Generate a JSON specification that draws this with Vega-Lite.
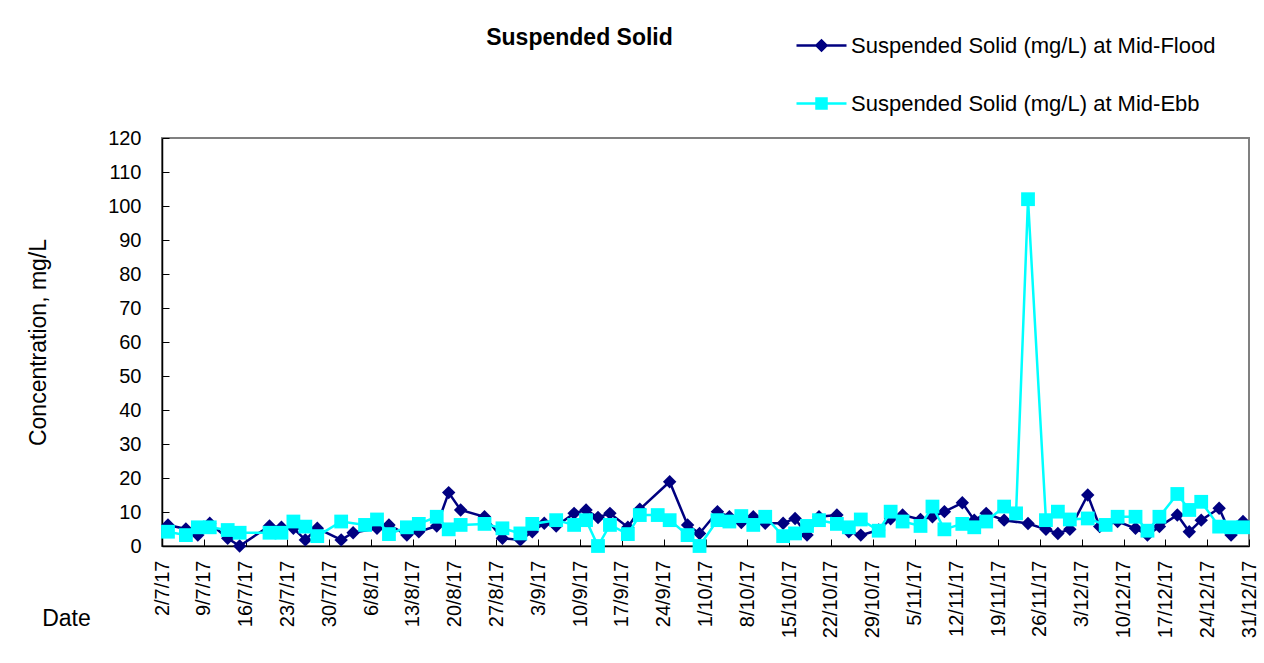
{
  "$schema": "https://vega.github.io/schema/vega-lite/v6.json",
  "width": 1087,
  "height": 408,
  "autosize": {"type": "none"},
  "padding": {"left": 162, "top": 138, "right": 15, "bottom": 117},
  "background": "white",
  "config": {"font": "Liberation Sans", "view": {"stroke": "#808080", "strokeWidth": 2}},
  "title": {"text": "Suspended Solid", "fontSize": 23, "fontWeight": "bold", "font": "Liberation Sans", "color": "black", "anchor": "middle", "frame": "group", "dx": -126, "offset": -31},
  "data": {"values": [
    {"d": "2017-07-03", "s": "Mid-Flood", "v": 6.2},
    {"d": "2017-07-06", "s": "Mid-Flood", "v": 5.0},
    {"d": "2017-07-08", "s": "Mid-Flood", "v": 3.2},
    {"d": "2017-07-10", "s": "Mid-Flood", "v": 6.7},
    {"d": "2017-07-13", "s": "Mid-Flood", "v": 2.3},
    {"d": "2017-07-15", "s": "Mid-Flood", "v": 0},
    {"d": "2017-07-20", "s": "Mid-Flood", "v": 5.9},
    {"d": "2017-07-22", "s": "Mid-Flood", "v": 5.5},
    {"d": "2017-07-24", "s": "Mid-Flood", "v": 5.2},
    {"d": "2017-07-26", "s": "Mid-Flood", "v": 1.8},
    {"d": "2017-07-28", "s": "Mid-Flood", "v": 5.2},
    {"d": "2017-08-01", "s": "Mid-Flood", "v": 1.8},
    {"d": "2017-08-03", "s": "Mid-Flood", "v": 3.9},
    {"d": "2017-08-07", "s": "Mid-Flood", "v": 5.2},
    {"d": "2017-08-09", "s": "Mid-Flood", "v": 6.2},
    {"d": "2017-08-12", "s": "Mid-Flood", "v": 3.2},
    {"d": "2017-08-14", "s": "Mid-Flood", "v": 4.2},
    {"d": "2017-08-17", "s": "Mid-Flood", "v": 5.9},
    {"d": "2017-08-19", "s": "Mid-Flood", "v": 15.7},
    {"d": "2017-08-21", "s": "Mid-Flood", "v": 10.6},
    {"d": "2017-08-25", "s": "Mid-Flood", "v": 8.6},
    {"d": "2017-08-28", "s": "Mid-Flood", "v": 2.3},
    {"d": "2017-08-31", "s": "Mid-Flood", "v": 1.8},
    {"d": "2017-09-02", "s": "Mid-Flood", "v": 4.2},
    {"d": "2017-09-04", "s": "Mid-Flood", "v": 6.7},
    {"d": "2017-09-06", "s": "Mid-Flood", "v": 5.9},
    {"d": "2017-09-09", "s": "Mid-Flood", "v": 9.6},
    {"d": "2017-09-11", "s": "Mid-Flood", "v": 10.6},
    {"d": "2017-09-13", "s": "Mid-Flood", "v": 8.4},
    {"d": "2017-09-15", "s": "Mid-Flood", "v": 9.6},
    {"d": "2017-09-18", "s": "Mid-Flood", "v": 5.5},
    {"d": "2017-09-20", "s": "Mid-Flood", "v": 10.8},
    {"d": "2017-09-25", "s": "Mid-Flood", "v": 18.9},
    {"d": "2017-09-28", "s": "Mid-Flood", "v": 6.2},
    {"d": "2017-09-30", "s": "Mid-Flood", "v": 3.7},
    {"d": "2017-10-03", "s": "Mid-Flood", "v": 10.1},
    {"d": "2017-10-05", "s": "Mid-Flood", "v": 8.6},
    {"d": "2017-10-07", "s": "Mid-Flood", "v": 6.9},
    {"d": "2017-10-09", "s": "Mid-Flood", "v": 8.6},
    {"d": "2017-10-11", "s": "Mid-Flood", "v": 6.7},
    {"d": "2017-10-14", "s": "Mid-Flood", "v": 6.7},
    {"d": "2017-10-16", "s": "Mid-Flood", "v": 8.1},
    {"d": "2017-10-18", "s": "Mid-Flood", "v": 3.2},
    {"d": "2017-10-20", "s": "Mid-Flood", "v": 8.6},
    {"d": "2017-10-23", "s": "Mid-Flood", "v": 9.1},
    {"d": "2017-10-25", "s": "Mid-Flood", "v": 4.2},
    {"d": "2017-10-27", "s": "Mid-Flood", "v": 3.2},
    {"d": "2017-10-30", "s": "Mid-Flood", "v": 4.7},
    {"d": "2017-11-01", "s": "Mid-Flood", "v": 8.0},
    {"d": "2017-11-03", "s": "Mid-Flood", "v": 9.1},
    {"d": "2017-11-06", "s": "Mid-Flood", "v": 7.8},
    {"d": "2017-11-08", "s": "Mid-Flood", "v": 8.6},
    {"d": "2017-11-10", "s": "Mid-Flood", "v": 10.1},
    {"d": "2017-11-13", "s": "Mid-Flood", "v": 12.7},
    {"d": "2017-11-15", "s": "Mid-Flood", "v": 7.6},
    {"d": "2017-11-17", "s": "Mid-Flood", "v": 9.6},
    {"d": "2017-11-20", "s": "Mid-Flood", "v": 7.6},
    {"d": "2017-11-24", "s": "Mid-Flood", "v": 6.6},
    {"d": "2017-11-27", "s": "Mid-Flood", "v": 4.9},
    {"d": "2017-11-29", "s": "Mid-Flood", "v": 3.7},
    {"d": "2017-12-01", "s": "Mid-Flood", "v": 4.9},
    {"d": "2017-12-04", "s": "Mid-Flood", "v": 15.0},
    {"d": "2017-12-06", "s": "Mid-Flood", "v": 5.7},
    {"d": "2017-12-09", "s": "Mid-Flood", "v": 7.2},
    {"d": "2017-12-12", "s": "Mid-Flood", "v": 5.2},
    {"d": "2017-12-14", "s": "Mid-Flood", "v": 3.2},
    {"d": "2017-12-16", "s": "Mid-Flood", "v": 5.7},
    {"d": "2017-12-19", "s": "Mid-Flood", "v": 9.1},
    {"d": "2017-12-21", "s": "Mid-Flood", "v": 4.2},
    {"d": "2017-12-23", "s": "Mid-Flood", "v": 7.6},
    {"d": "2017-12-26", "s": "Mid-Flood", "v": 11.1},
    {"d": "2017-12-28", "s": "Mid-Flood", "v": 3.2},
    {"d": "2017-12-30", "s": "Mid-Flood", "v": 7.2},
    {"d": "2017-07-03", "s": "Mid-Ebb", "v": 4.2},
    {"d": "2017-07-06", "s": "Mid-Ebb", "v": 3.2},
    {"d": "2017-07-08", "s": "Mid-Ebb", "v": 5.5},
    {"d": "2017-07-10", "s": "Mid-Ebb", "v": 5.5},
    {"d": "2017-07-13", "s": "Mid-Ebb", "v": 4.7},
    {"d": "2017-07-15", "s": "Mid-Ebb", "v": 3.9},
    {"d": "2017-07-20", "s": "Mid-Ebb", "v": 3.9},
    {"d": "2017-07-22", "s": "Mid-Ebb", "v": 3.9},
    {"d": "2017-07-24", "s": "Mid-Ebb", "v": 7.2},
    {"d": "2017-07-26", "s": "Mid-Ebb", "v": 5.7},
    {"d": "2017-07-28", "s": "Mid-Ebb", "v": 2.9},
    {"d": "2017-08-01", "s": "Mid-Ebb", "v": 7.2},
    {"d": "2017-08-05", "s": "Mid-Ebb", "v": 6.2},
    {"d": "2017-08-07", "s": "Mid-Ebb", "v": 7.8},
    {"d": "2017-08-09", "s": "Mid-Ebb", "v": 3.5},
    {"d": "2017-08-12", "s": "Mid-Ebb", "v": 5.5},
    {"d": "2017-08-14", "s": "Mid-Ebb", "v": 6.5},
    {"d": "2017-08-17", "s": "Mid-Ebb", "v": 8.6},
    {"d": "2017-08-19", "s": "Mid-Ebb", "v": 4.9},
    {"d": "2017-08-21", "s": "Mid-Ebb", "v": 6.2},
    {"d": "2017-08-25", "s": "Mid-Ebb", "v": 6.5},
    {"d": "2017-08-28", "s": "Mid-Ebb", "v": 5.2},
    {"d": "2017-08-31", "s": "Mid-Ebb", "v": 3.7},
    {"d": "2017-09-02", "s": "Mid-Ebb", "v": 6.5},
    {"d": "2017-09-06", "s": "Mid-Ebb", "v": 7.6},
    {"d": "2017-09-09", "s": "Mid-Ebb", "v": 6.2},
    {"d": "2017-09-11", "s": "Mid-Ebb", "v": 7.6},
    {"d": "2017-09-13", "s": "Mid-Ebb", "v": 0},
    {"d": "2017-09-15", "s": "Mid-Ebb", "v": 6.2},
    {"d": "2017-09-18", "s": "Mid-Ebb", "v": 3.5},
    {"d": "2017-09-20", "s": "Mid-Ebb", "v": 9.1},
    {"d": "2017-09-23", "s": "Mid-Ebb", "v": 9.1},
    {"d": "2017-09-25", "s": "Mid-Ebb", "v": 7.6},
    {"d": "2017-09-28", "s": "Mid-Ebb", "v": 3.2},
    {"d": "2017-09-30", "s": "Mid-Ebb", "v": 0},
    {"d": "2017-10-03", "s": "Mid-Ebb", "v": 7.6},
    {"d": "2017-10-05", "s": "Mid-Ebb", "v": 7.2},
    {"d": "2017-10-07", "s": "Mid-Ebb", "v": 8.8},
    {"d": "2017-10-09", "s": "Mid-Ebb", "v": 6.2},
    {"d": "2017-10-11", "s": "Mid-Ebb", "v": 8.6},
    {"d": "2017-10-14", "s": "Mid-Ebb", "v": 2.9},
    {"d": "2017-10-16", "s": "Mid-Ebb", "v": 3.7},
    {"d": "2017-10-18", "s": "Mid-Ebb", "v": 5.9},
    {"d": "2017-10-20", "s": "Mid-Ebb", "v": 7.6},
    {"d": "2017-10-23", "s": "Mid-Ebb", "v": 6.5},
    {"d": "2017-10-25", "s": "Mid-Ebb", "v": 5.5},
    {"d": "2017-10-27", "s": "Mid-Ebb", "v": 7.8},
    {"d": "2017-10-30", "s": "Mid-Ebb", "v": 4.5},
    {"d": "2017-11-01", "s": "Mid-Ebb", "v": 10.1},
    {"d": "2017-11-03", "s": "Mid-Ebb", "v": 7.2},
    {"d": "2017-11-06", "s": "Mid-Ebb", "v": 5.9},
    {"d": "2017-11-08", "s": "Mid-Ebb", "v": 11.6},
    {"d": "2017-11-10", "s": "Mid-Ebb", "v": 4.9},
    {"d": "2017-11-13", "s": "Mid-Ebb", "v": 6.5},
    {"d": "2017-11-15", "s": "Mid-Ebb", "v": 5.5},
    {"d": "2017-11-17", "s": "Mid-Ebb", "v": 7.2},
    {"d": "2017-11-20", "s": "Mid-Ebb", "v": 11.6},
    {"d": "2017-11-22", "s": "Mid-Ebb", "v": 9.6},
    {"d": "2017-11-24", "s": "Mid-Ebb", "v": 102},
    {"d": "2017-11-27", "s": "Mid-Ebb", "v": 7.6},
    {"d": "2017-11-29", "s": "Mid-Ebb", "v": 10.1},
    {"d": "2017-12-01", "s": "Mid-Ebb", "v": 7.8},
    {"d": "2017-12-04", "s": "Mid-Ebb", "v": 8.1},
    {"d": "2017-12-07", "s": "Mid-Ebb", "v": 6.2},
    {"d": "2017-12-09", "s": "Mid-Ebb", "v": 8.6},
    {"d": "2017-12-12", "s": "Mid-Ebb", "v": 8.6},
    {"d": "2017-12-14", "s": "Mid-Ebb", "v": 4.5},
    {"d": "2017-12-16", "s": "Mid-Ebb", "v": 8.6},
    {"d": "2017-12-19", "s": "Mid-Ebb", "v": 15.3},
    {"d": "2017-12-21", "s": "Mid-Ebb", "v": 10.6},
    {"d": "2017-12-23", "s": "Mid-Ebb", "v": 13.0},
    {"d": "2017-12-26", "s": "Mid-Ebb", "v": 5.7},
    {"d": "2017-12-28", "s": "Mid-Ebb", "v": 5.5},
    {"d": "2017-12-30", "s": "Mid-Ebb", "v": 5.5}
  ]},
  "encoding": {
    "x": {
      "field": "d", "type": "temporal",
      "scale": {"type": "utc", "domain": [{"year": 2017, "month": 7, "date": 2, "utc": true}, {"year": 2017, "month": 12, "date": 31, "utc": true}]},
      "axis": {
        "title": "Date", "titleFont": "Liberation Sans", "titleFontSize": 23, "titleFontWeight": "normal", "titleColor": "black",
        "titleX": -96, "titleY": 72, "titleAngle": 0, "titleAlign": "center", "titleBaseline": "middle",
        "format": "%-d/%-m/%y", "labelAngle": -90, "labelFont": "Liberation Sans", "labelFontSize": 20, "labelColor": "black",
        "labelPadding": 21, "tickCount": {"interval": "week", "step": 1}, "grid": false, "tickSize": -7, "tickColor": "black",
        "domainColor": "black", "domainWidth": 1.5, "labelOverlap": false, "labelFlush": false, "labelBound": false
      }
    },
    "y": {
      "field": "v", "type": "quantitative",
      "scale": {"domain": [0, 120]},
      "axis": {
        "title": "Concentration, mg/L", "titleFont": "Liberation Sans", "titleFontSize": 23, "titleFontWeight": "normal", "titleColor": "black",
        "titleX": -124, "titleY": 204, "titleAngle": -90, "titleAlign": "center", "titleBaseline": "middle",
        "values": [0, 10, 20, 30, 40, 50, 60, 70, 80, 90, 100, 110, 120],
        "labelFont": "Liberation Sans", "labelFontSize": 20, "labelColor": "black", "labelPadding": 28,
        "grid": false, "tickSize": -7, "tickColor": "black", "domainColor": "black", "domainWidth": 1.5
      }
    },
    "color": {
      "field": "s", "type": "nominal",
      "scale": {"domain": ["Mid-Flood", "Mid-Ebb"], "range": ["#000080", "#00FFFF"]},
      "legend": {
        "orient": "none", "legendX": 633, "legendY": -119, "title": null, "padding": 0,
        "symbolSize": 2500, "rowPadding": 20, "labelOffset": 3, "labelLimit": 0,
        "labelFont": "Liberation Sans", "labelFontSize": 22, "labelColor": "black",
        "labelExpr": "'Suspended Solid (mg/L) at ' + datum.label",
        "encode": {
          "symbols": {
            "update": {
              "shape": {"signal": "datum.value == 'Mid-Flood' ? 'M-1,0L1,0M-0.2,0L0,-0.2L0.2,0L0,0.2Z' : 'M-1,0L1,0M-0.2,-0.2L0.2,-0.2L0.2,0.2L-0.2,0.2Z'"},
              "fill": {"signal": "datum.value == 'Mid-Flood' ? '#000080' : '#00FFFF'"},
              "stroke": {"signal": "datum.value == 'Mid-Flood' ? '#000080' : '#00FFFF'"},
              "strokeWidth": {"value": 2.5},
              "opacity": {"value": 1}
            }
          }
        }
      }
    }
  },
  "layer": [
    {"transform": [{"filter": "datum.s == 'Mid-Flood'"}], "mark": {"type": "line", "strokeWidth": 2.5}},
    {"transform": [{"filter": "datum.s == 'Mid-Flood'"}], "mark": {"type": "point", "shape": "diamond", "filled": true, "size": 180, "opacity": 1}},
    {"transform": [{"filter": "datum.s == 'Mid-Ebb'"}], "mark": {"type": "line", "strokeWidth": 2.5}},
    {"transform": [{"filter": "datum.s == 'Mid-Ebb'"}], "mark": {"type": "point", "shape": "square", "filled": true, "size": 190, "opacity": 1}}
  ]
}
